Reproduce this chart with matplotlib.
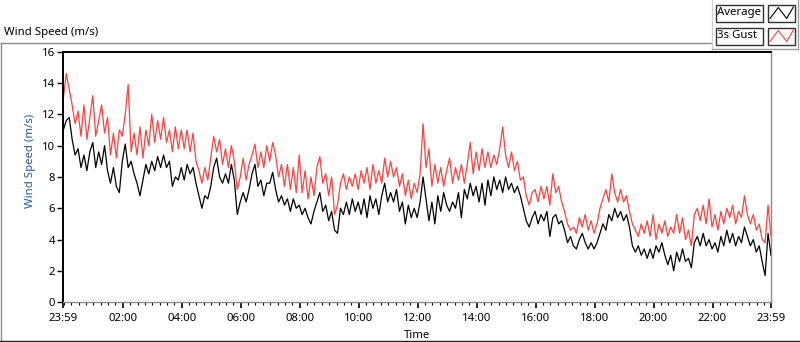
import numpy as np
import matplotlib
matplotlib.use("Agg")
import matplotlib.pyplot as plt
from matplotlib.ticker import FixedLocator, NullFormatter

plt.rcParams['font.family'] = ['Noto Sans', 'DejaVu Sans']

# ---------------- data ----------------
sample_minutes = 6  # one reading every 6 minutes, from 23:59 to 23:59

average = [
    11.0, 11.6, 11.8, 10.4, 9.4, 9.8, 8.6, 9.4, 8.4, 9.6,
    10.2, 8.6, 9.6, 8.8, 10.0, 8.4, 7.6, 8.6, 7.4, 7.0,
    9.0, 10.1, 8.6, 9.0, 8.2, 7.6, 6.8, 7.8, 8.8, 8.2,
    9.0, 8.4, 9.3, 8.6, 9.4, 8.6, 9.0, 7.4, 8.0, 7.8,
    8.6, 7.8, 8.8, 8.2, 8.6, 7.6, 6.8, 6.0, 6.8, 6.6,
    7.4, 8.6, 9.2, 8.0, 7.6, 8.2, 7.6, 8.8, 7.8, 5.6,
    6.4, 7.0, 6.4, 7.2, 8.2, 8.8, 7.4, 7.8, 6.8, 7.6,
    7.6, 8.3, 7.2, 6.4, 6.8, 6.2, 6.6, 5.8, 6.6, 6.0,
    6.2, 5.6, 6.0, 5.4, 5.0, 5.8, 6.4, 7.0, 5.8, 6.2,
    5.2, 5.8, 4.6, 4.4, 6.0, 5.6, 6.4, 5.6, 6.6, 5.8,
    6.4, 5.6, 6.6, 5.4, 6.8, 6.0, 6.6, 5.6, 6.8, 7.6,
    6.4, 7.0, 6.4, 7.2, 5.8, 6.4, 5.0, 6.2, 5.4, 6.0,
    5.4, 6.4, 8.0, 6.6, 5.2, 6.4, 5.0, 6.8, 5.8, 7.0,
    6.2, 5.8, 6.4, 6.0, 7.0, 5.4, 7.2, 6.6, 7.6, 6.8,
    7.4, 6.4, 7.6, 6.2, 7.8, 6.8, 8.0, 7.2, 7.8, 7.0,
    8.0, 7.2, 7.6, 7.0, 7.4, 6.8, 6.0, 5.2, 4.8, 5.4,
    5.8, 5.0, 5.6, 5.2, 5.8, 4.2, 5.4, 5.6, 5.0, 5.2,
    4.6, 3.8, 4.2, 3.6, 3.4, 4.0, 4.4, 3.8, 3.4, 3.8,
    3.4, 3.8, 4.4, 5.0, 4.6, 5.6, 5.2, 6.0, 5.4, 5.8,
    5.2, 5.6, 4.8, 3.6, 3.2, 3.6, 3.0, 3.4, 2.8, 3.4,
    2.8, 3.6, 3.2, 3.8, 3.0, 2.4, 3.0, 2.0, 3.2, 2.6,
    3.4, 2.6, 2.8, 2.2, 3.8, 4.2, 3.6, 4.4, 3.6, 4.0,
    3.4, 3.8, 3.2, 4.2, 3.6, 4.6, 3.8, 4.4, 3.6, 4.2,
    3.8, 4.8, 4.2, 3.6, 4.0, 3.2, 3.6, 2.6, 1.7, 4.4, 3.0,
]

gust = [
    13.0, 14.6, 13.6, 12.6, 11.4, 12.2, 10.6, 12.6, 10.4, 11.8,
    13.2, 10.6, 11.6, 12.6, 10.8, 11.8, 9.4, 10.8, 9.2, 11.0,
    10.6, 12.0, 13.9, 9.6, 10.8, 9.4, 11.2, 9.2, 11.0, 10.0,
    12.0, 10.2, 11.6, 10.4, 11.8, 10.2, 11.0, 9.6, 11.2, 9.8,
    11.0, 9.8, 11.0, 9.6, 10.8, 9.0, 8.4, 7.6, 8.6, 7.8,
    9.2, 10.6, 9.6, 10.4, 8.8, 9.8, 8.6, 10.0, 9.0, 7.2,
    8.0, 9.2, 7.8, 8.8, 9.4, 10.1, 8.6, 9.6, 8.6, 10.0,
    9.0, 10.2, 9.4, 8.0, 8.8, 7.4, 8.8, 7.2, 8.6, 7.0,
    9.4, 7.0, 8.4, 6.6, 8.0, 6.8, 8.6, 9.3, 7.6, 8.2,
    6.8, 8.0, 5.6, 6.2, 7.6, 8.2, 7.2, 8.0, 7.4, 8.2,
    7.2, 8.4, 7.6, 8.6, 7.2, 8.8, 7.6, 8.4, 7.6, 9.2,
    8.0, 9.0, 8.0, 8.6, 7.4, 8.2, 6.8, 7.8, 6.6, 7.6,
    7.0, 8.2, 11.4, 8.6, 9.8, 7.4, 8.8, 7.6, 8.6, 7.4,
    8.4, 9.2, 7.6, 8.6, 7.8, 8.8, 7.6, 8.8, 10.2, 8.2,
    9.6, 8.4, 9.8, 8.6, 9.6, 8.6, 9.4, 8.8, 9.8, 11.2,
    9.4, 8.6, 9.6, 8.4, 9.0, 7.8, 8.0, 6.8, 6.2, 7.0,
    7.2, 6.4, 7.4, 6.6, 7.4, 6.2, 8.2, 7.0, 7.4, 6.4,
    5.8, 5.0, 4.6, 4.8, 4.4, 5.4, 4.8, 5.6, 4.6, 5.2,
    4.4, 5.0, 6.0, 6.6, 7.2, 6.4, 8.2, 7.0, 6.4, 7.2,
    6.4, 6.8, 5.8, 5.0, 4.6, 4.2, 5.0, 4.4, 5.2, 4.2,
    5.6, 4.0, 5.0, 4.4, 5.2, 4.2, 4.8, 4.4, 5.6, 4.4,
    5.4, 4.0, 4.6, 3.6, 5.6, 6.0, 5.2, 6.2, 5.0, 6.6,
    4.8, 5.6, 4.6, 5.8, 5.0, 6.0, 5.4, 6.2, 5.0, 5.8,
    5.4, 6.8, 5.6, 5.0, 5.6, 4.6, 5.0, 4.0, 3.8, 6.2, 4.2,
]

x_tick_labels = ["23:59", "02:00", "04:00", "06:00", "08:00", "10:00", "12:00",
                 "14:00", "16:00", "18:00", "20:00", "22:00", "23:59"]
y_ticks = [0, 2, 4, 6, 8, 10, 12, 14, 16]
series_names = ["Average", "3s Gust"]
series_colors = ["#000000", "#ff4040"]

# ---------------- derived ----------------
minutes = np.arange(len(average)) * sample_minutes
start_min = 23 * 60 + 59


def label_to_minutes(lbl, last=False):
    h, m = map(int, lbl.split(":"))
    v = (h * 60 + m - start_min) % 1440
    return 1440 if (last and v == 0) else v


x_ticks = [label_to_minutes(l, i == len(x_tick_labels) - 1)
           for i, l in enumerate(x_tick_labels)]
minor_ticks = np.arange(1, 1440, 15)

# ---------------- figure ----------------
W, H = 800, 342
fig = plt.figure(figsize=(W / 100, H / 100), dpi=100)
fig.patch.set_facecolor("white")

L, R, T, B = 63.3, 771.0, 51.7, 302.2
ax = fig.add_axes([L / W, 1 - B / H, (R - L) / W, (B - T) / H])

ax.plot(minutes, gust, color=series_colors[1], lw=0.9, zorder=2)
ax.plot(minutes, average, color=series_colors[0], lw=0.9, zorder=3)

ax.set_xlim(0, 1440)
ax.set_ylim(0, 16)
ax.xaxis.set_major_locator(FixedLocator(x_ticks))
ax.set_xticklabels(x_tick_labels)
ax.xaxis.set_minor_locator(FixedLocator(minor_ticks))
ax.xaxis.set_minor_formatter(NullFormatter())
ax.set_yticks(y_ticks)
ax.set_yticklabels([str(v) for v in y_ticks])

ax.tick_params(axis="both", which="major", labelsize=8.2, colors="black")
ax.tick_params(axis="y", which="major", length=4, width=1, pad=2)
ax.tick_params(axis="x", which="major", length=4.5, width=1.2, pad=3)
ax.tick_params(axis="x", which="minor", length=2.5, width=0.8)

for side in ("left", "top"):
    ax.spines[side].set_color("black")
    ax.spines[side].set_linewidth(1.4)
for side in ("right", "bottom"):
    ax.spines[side].set_color("#8c8c8c")
    ax.spines[side].set_linewidth(1.0)

# overlay for frame, titles and legend (pixel coordinates)
ov = fig.add_axes([0, 0, 1, 1], zorder=-1)
ov.set_xlim(0, W)
ov.set_ylim(H, 0)
ov.axis("off")

ov.plot([0.5, 711], [42.5, 42.5], color="#8c8c8c", lw=1.0)
ov.plot([0.5, 0.5], [42.5, 341], color="#8c8c8c", lw=1.0)
ov.plot([0, 800], [340.5, 340.5], color="#202020", lw=1.0)

ov.text(4, 32, "Wind Speed (m/s)", fontsize=8.2, color="black",
        ha="left", va="center")
ov.text(31, 161, "Wind Speed (m/s)", fontsize=8.2, color="#2b5797",
        ha="center", va="center", rotation=90)
ov.text(417, 335, "Time", fontsize=8.2, color="black",
        ha="center", va="center")

# legend panel
ov.plot([711.5, 711.5], [0, 48.5], color="#d0d0d0", lw=1.0)
ov.plot([711.5, 797.5], [48.5, 48.5], color="#a0a0a0", lw=1.0)
ov.plot([797.5, 797.5], [0, 48.5], color="#a0a0a0", lw=1.0)
for k, (name, col) in enumerate(zip(series_names, series_colors)):
    y0 = 4.5 + k * 23
    ov.add_patch(plt.Rectangle((715.5, y0), 47, 17, fill=False,
                               ec="#303030", lw=1.0))
    ov.add_patch(plt.Rectangle((767.5, y0), 27.5, 17, fill=False,
                               ec="#303030", lw=1.0))
    ov.text(717, y0 + 8.5, name, fontsize=8.2, color="black",
            ha="left", va="center")
    ov.plot([770, 778.3, 786.7, 793.3],
            [y0 + 14, y0 + 3, y0 + 14, y0 + 2.5], color=col, lw=0.8)

fig.savefig("out.png", dpi=100, facecolor="white")
